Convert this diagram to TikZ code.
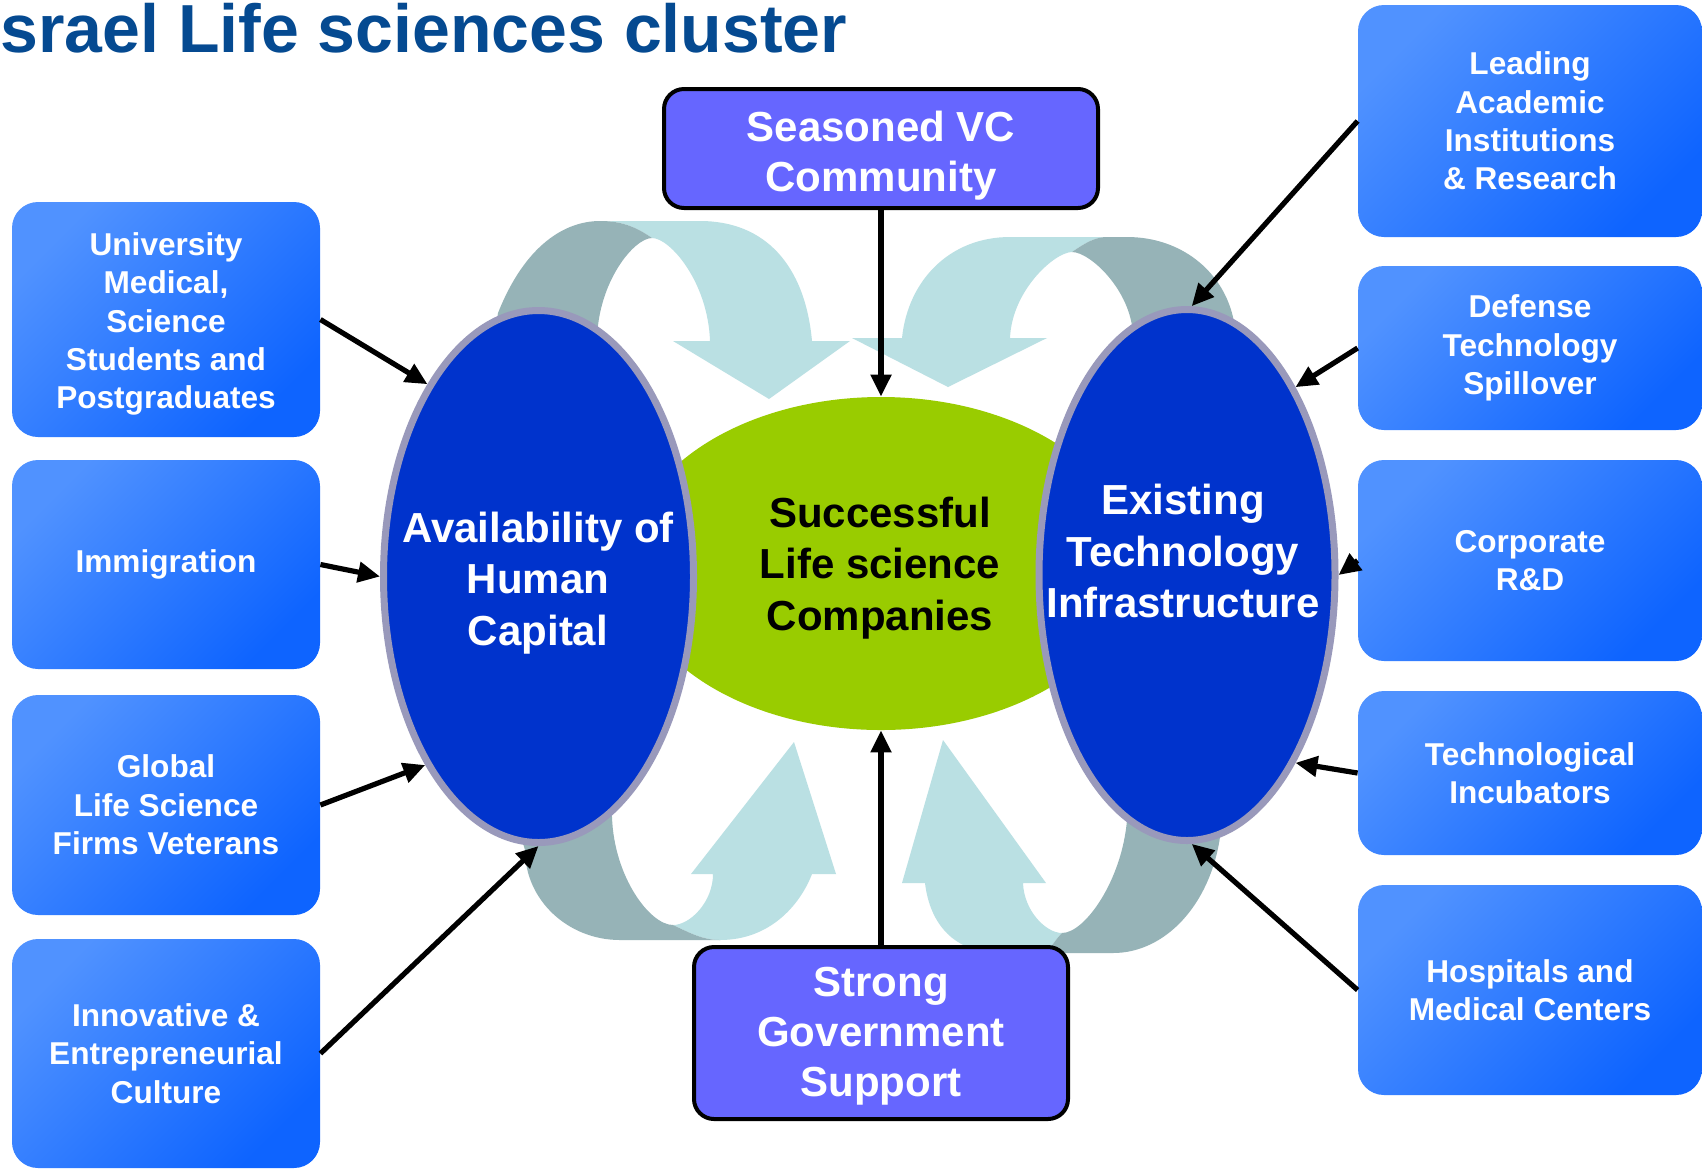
\documentclass[tikz,border=0pt]{standalone}
\usepackage{fontspec}
\setmainfont{Liberation Sans}
\usetikzlibrary{arrows.meta,shapes.geometric}
\definecolor{titleblue}{RGB}{5,74,145}
\definecolor{boxA}{RGB}{80,146,255}
\definecolor{boxB}{RGB}{14,100,255}
\definecolor{hubfill}{RGB}{102,102,255}
\definecolor{ellfill}{RGB}{0,51,204}
\definecolor{elledge}{RGB}{153,153,187}
\definecolor{greenfill}{RGB}{153,204,0}
\definecolor{arlight}{RGB}{186,224,227}
\definecolor{ardark}{RGB}{150,179,183}
\begin{document}
\begin{tikzpicture}[x=0.5pt,y=-0.5pt,
  sidebox/.style={rectangle, rounded corners=13pt, top color=boxA, bottom color=boxB, shading angle=45, text=white, font=\fontsize{15.8}{19.2}\selectfont\bfseries, align=center, inner sep=0pt},
  lbox/.style={sidebox, minimum width=154pt},
  rbox/.style={sidebox, minimum width=172pt},
  hubbox/.style={rectangle, rounded corners=10pt, draw=black, line width=2pt, fill=hubfill, inner sep=0pt},
  hubtext/.style={text=white, font=\fontsize{21}{25}\selectfont\bfseries, align=center, inner sep=0pt},
  midtext/.style={font=\fontsize{21}{25.6}\selectfont\bfseries, align=center, inner sep=0pt},
  blueell/.style={ellipse, draw=elledge, line width=3.5pt, fill=ellfill, inner sep=0pt},
  conn/.style={line width=2.6pt, -{Triangle[length=11pt,width=10pt]}}
]
\fill[white] (0,0) rectangle (1702,1169);
\useasboundingbox (0,0) rectangle (1702,1169);

% title
\node[anchor=base west, inner sep=0pt, text=titleblue, font=\fontsize{34}{40}\selectfont\bfseries] (title) at (0,52) {srael Life sciences cluster};

% U-turn arrows: top-left
\fill[arlight] (600,221) -- (700,221) .. controls (765,221) and (805,265) .. (812,341) -- (850,341) -- (769,399) -- (673,341) -- (710,341) .. controls (708,282) and (670,238) .. (652,238) .. controls (635,226) and (620,221) .. (600,221) -- cycle;
\fill[ardark] (488,380) -- (498,313) .. controls (525,245) and (565,221) .. (600,221) .. controls (620,221) and (635,226) .. (652,238) .. controls (634,238) and (598,282) .. (597,340) -- (590,380) -- cycle;
% top-right
\fill[arlight] (1107,237) -- (1010,237) .. controls (950,237) and (908,280) .. (902,338) -- (852,338) -- (948,387) -- (1047,338) -- (1010,338) .. controls (1012,290) and (1055,252) .. (1072,252) .. controls (1085,243) and (1095,237) .. (1107,237) -- cycle;
\fill[ardark] (1107,237) -- (1127,237) .. controls (1180,237) and (1222,270) .. (1233,317) -- (1240,360) -- (1135,360) -- (1133,335) .. controls (1131,290) and (1090,252) .. (1072,252) .. controls (1085,243) and (1095,237) .. (1107,237) -- cycle;
% bottom-left
\fill[arlight] (720,940) .. controls (770,940) and (800,905) .. (812,874) -- (836,874) -- (794,742) -- (691,874) -- (713,874) .. controls (713,902) and (690,925) .. (673,925) .. controls (690,933) and (703,940) .. (720,940) -- cycle;
\fill[ardark] (510,800) -- (525,850) .. controls (525,900) and (568,940) .. (620,940) -- (720,940) .. controls (703,940) and (690,933) .. (673,925) .. controls (650,925) and (614,877) .. (612,817) -- (600,780) -- cycle;
% bottom-right
\fill[arlight] (1023,883) -- (1046,883) -- (943,740) -- (902,883) -- (925,883) .. controls (930,925) and (955,953) .. (1000,953) -- (1047,953) .. controls (1052,945) and (1057,938) .. (1062,933) .. controls (1046,933) and (1024,911) .. (1023,883) -- cycle;
\fill[ardark] (1047,953) -- (1113,953) .. controls (1165,953) and (1210,905) .. (1220,837) -- (1225,800) -- (1130,800) -- (1127,820) .. controls (1122,880) and (1085,933) .. (1062,933) .. controls (1057,938) and (1052,945) .. (1047,953) -- cycle;

% central ellipses
\node[ellipse, fill=greenfill, inner sep=0pt, minimum width=253pt, minimum height=166.5pt] (G) at (881,563.5) {};
\node[blueell, minimum width=155pt, minimum height=266pt] (Lell) at (538.5,576.5) {};
\node[blueell, minimum width=148pt, minimum height=265.5pt] (Rell) at (1187,575) {};
\node[midtext, text=black] (Gtext) at (880,568) {Successful\\Life science\\Companies};
\node[midtext, text=white] (Ltext) at (538,583) {Availability of\\Human\\Capital};
\node[midtext, text=white] (Rtext) at (1183,551) {Existing\\Technology\\Infrastructure};

% hub boxes
\node[hubbox, minimum width=217pt, minimum height=59.5pt] (VC) at (881,148.5) {};
\node[hubtext] (VCtext) at (881,156) {Seasoned VC\\Community};
\node[hubbox, minimum width=187pt, minimum height=86pt] (GOV) at (881,1033) {};
\node[hubtext] (GOVtext) at (881,1036) {Strong\\Government\\Support};

% left boxes
\node[lbox, minimum height=117.5pt] (L1) at (166,319.5) {};
\node[text=white, font=\fontsize{15.8}{19.2}\selectfont\bfseries, align=center, inner sep=0pt] (L1text) at (166,324) {University\\Medical,\\Science\\Students and\\Postgraduates};
\node[lbox, minimum height=104.5pt] (L2) at (166,564.5) {Immigration};
\node[lbox, minimum height=110pt] (L3) at (166,805) {Global\\Life Science\\Firms Veterans};
\node[lbox, minimum height=114.5pt] (L4) at (166,1053.5) {Innovative \&\\Entrepreneurial\\Culture};

% right boxes
\node[rbox, minimum height=116pt] (R1) at (1530,121) {Leading\\Academic\\Institutions\\\& Research};
\node[rbox, minimum height=82pt] (R2) at (1530,348) {Defense\\Technology\\Spillover};
\node[rbox, minimum height=100.5pt] (R3) at (1530,560.5) {Corporate\\R\&D};
\node[rbox, minimum height=82pt] (R4) at (1530,773) {Technological\\Incubators};
\node[rbox, minimum height=105pt] (R5) at (1530,990) {Hospitals and\\Medical Centers};

% connectors
\draw[conn] (VC.south) -- (G.north);
\draw[conn] (GOV.north) -- (G.south);
\draw[conn] (L1.east) -- (Lell.120.6);
\draw[conn] (L2.east) -- (Lell.180);
\draw[conn] (L3.east) -- (Lell.239.4);
\draw[conn] (L4.east) -- (Lell.270);
\draw[conn] (R1.west) -- (Rell.89);
\draw[conn] (R2.west) -- (Rell.60.1);
\draw[conn] (R3.west) -- (Rell.0);
\draw[conn] (R4.west) -- (Rell.300.3);
\draw[conn] (R5.west) -- (Rell.271);
\end{tikzpicture}
\end{document}
